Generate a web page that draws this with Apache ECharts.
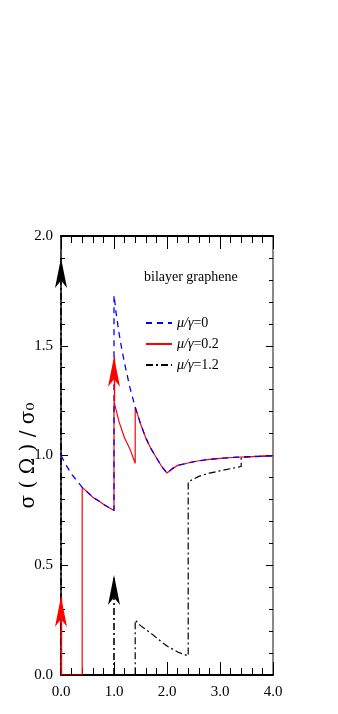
<!DOCTYPE html>
<html>
<head>
<meta charset="utf-8">
<script src="https://cdn.jsdelivr.net/npm/echarts@6/dist/echarts.min.js"></script>
<style>
  html, body { margin: 0; padding: 0; background: #fff; }
  #chart { width: 338px; height: 714px; }
</style>
</head>
<body>
<div id="chart"></div>
<script>
// mu/gamma = 0 (blue dashed)
const blueX = [0, 0.1, 0.2, 0.3, 0.4, 0.5, 0.6, 0.7, 0.8, 0.9, 1.0,
  1.0, 1.05, 1.1, 1.15, 1.2, 1.3, 1.4, 1.5, 1.6, 1.7, 1.8, 1.9, 2.0,
  2.1, 2.2, 2.4, 2.6, 2.8, 3.0, 3.3, 3.6, 4.0];
const blueY = [1.0, 0.955, 0.915, 0.885, 0.855, 0.833, 0.81, 0.795, 0.778, 0.763, 0.75,
  1.73, 1.63, 1.55, 1.48, 1.42, 1.31, 1.22, 1.145, 1.08, 1.03, 0.99, 0.95, 0.92,
  0.94, 0.955, 0.966, 0.976, 0.982, 0.987, 0.992, 0.995, 0.998];

// mu/gamma = 0.2 (red solid)
const redX = [0, 0.4, 0.4, 0.5, 0.6, 0.7, 0.8, 0.9, 1.0,
  1.0, 1.1, 1.2, 1.3, 1.4,
  1.4, 1.5, 1.6, 1.7, 1.8, 1.9, 2.0, 2.1, 2.2, 2.4, 2.6, 2.8, 3.0, 3.3, 3.6, 4.0];
const redY = [0, 0, 0.855, 0.833, 0.81, 0.795, 0.778, 0.763, 0.75,
  1.245, 1.15, 1.08, 1.03, 0.965,
  1.22, 1.145, 1.08, 1.03, 0.99, 0.95, 0.92, 0.94, 0.955, 0.966, 0.976, 0.982, 0.987, 0.992, 0.995, 0.998];

// mu/gamma = 1.2 (black dash-dot)
const blackX = [0, 1.4, 1.4, 1.5, 1.7, 1.9, 2.0, 2.2, 2.4, 2.4, 2.6, 2.8, 3.0, 3.2, 3.4, 3.4, 3.6, 4.0];
const blackY = [0, 0, 0.25, 0.225, 0.19, 0.15, 0.132, 0.105, 0.087, 0.88, 0.905, 0.92, 0.93, 0.94, 0.95, 0.99, 0.995, 0.998];

// Drude / delta peaks drawn as arrows: [x, from, tip]
const redArrows = [[0, 0, 0.357], [1.0, 1.245, 1.45]];
const blackArrows = [[0, 0, 1.9], [1.0, 0, 0.456]];

const xTicks = [0, 1, 2, 3, 4];
const yTicks = [0, 0.5, 1.0, 1.5, 2.0];

const names = ['μ/γ=0', 'μ/γ=0.2', 'μ/γ=1.2'];

function pairs(xs, ys) {
  return xs.map((x, i) => [x, ys[i]]);
}

function arrowData(list) {
  return list.map(a => [{ coord: [a[0], a[1]] }, { coord: [a[0], a[2]] }]);
}

const serif = 'Liberation Serif, DejaVu Serif, serif';

const chart = echarts.init(document.getElementById('chart'));

const xBase = {
  type: 'value', min: xTicks[0], max: xTicks[xTicks.length - 1], interval: 1,
  splitLine: { show: false },
  axisTick: { inside: true, length: 13, lineStyle: { color: '#000', width: 1 } },
  minorTick: { show: true, splitNumber: 5, length: 7, lineStyle: { color: '#000', width: 1 } },
  minorSplitLine: { show: false }
};
const yBase = {
  type: 'value', min: yTicks[0], max: yTicks[yTicks.length - 1], interval: 0.5,
  splitLine: { show: false },
  axisTick: { inside: true, length: 7, lineStyle: { color: '#000', width: 1 } },
  minorTick: { show: true, splitNumber: 5, length: 4, lineStyle: { color: '#000', width: 1 } },
  minorSplitLine: { show: false }
};

chart.setOption({
  animation: false,
  backgroundColor: '#fff',
  grid: { left: 61, right: 65, top: 236, bottom: 39 },
  title: {
    text: 'bilayer graphene',
    left: 139, top: 265,
    textStyle: { fontFamily: serif, fontSize: 14, fontWeight: 'normal', color: '#000' }
  },
  legend: {
    data: names,
    orient: 'vertical',
    left: 140, top: 311,
    itemWidth: 26, itemHeight: 12, itemGap: 7,
    itemStyle: { opacity: 0 },
    formatter: n => '{i|μ/γ}' + n.slice(3),
    textStyle: {
      fontFamily: serif, fontSize: 14, color: '#000',
      rich: { i: { fontFamily: serif, fontSize: 14, fontStyle: 'italic', color: '#000' } }
    },
    selectedMode: false
  },
  xAxis: [
    Object.assign({}, xBase, {
      position: 'bottom',
      axisLine: { onZero: false, lineStyle: { color: '#000', width: 2 } },
      axisLabel: { formatter: v => v.toFixed(1), fontFamily: serif, fontSize: 15, color: '#000', margin: 10 }
    }),
    Object.assign({}, xBase, {
      position: 'top',
      axisLine: { onZero: false, lineStyle: { color: '#000', width: 2 } },
      axisLabel: { show: false }
    })
  ],
  yAxis: [
    Object.assign({}, yBase, {
      position: 'left',
      name: 'σ ( Ω ) / σ₀',
      nameLocation: 'middle',
      nameRotate: 90,
      nameGap: 22,
      nameMoveOverlap: false,
      nameTextStyle: { fontFamily: 'DejaVu Serif, serif', fontSize: 20, color: '#000' },
      axisLine: { onZero: false, lineStyle: { color: '#000', width: 1.5 } },
      axisLabel: { formatter: v => v.toFixed(1), fontFamily: serif, fontSize: 15, color: '#000', margin: 8 }
    }),
    Object.assign({}, yBase, {
      position: 'right',
      axisLine: { onZero: false, lineStyle: { color: '#888', width: 2 } },
      axisLabel: { show: false }
    })
  ],
  series: [
    {
      name: names[2], type: 'line', xAxisIndex: 0, yAxisIndex: 0,
      data: pairs(blackX, blackY), showSymbol: false, symbol: 'none',
      lineStyle: { color: '#000', width: 1.2, type: [7, 3, 2, 3] },
      itemStyle: { color: '#000' },
      markLine: {
        silent: true, symbol: ['none', 'arrow'], symbolSize: [9, 30],
        label: { show: false },
        lineStyle: { color: '#000', width: 1.6, type: [7, 3, 2, 3] },
        itemStyle: { color: '#000' },
        data: arrowData(blackArrows)
      }
    },
    {
      name: names[1], type: 'line', xAxisIndex: 0, yAxisIndex: 0,
      data: pairs(redX, redY), showSymbol: false, symbol: 'none',
      lineStyle: { color: '#ff0000', width: 1.2 },
      itemStyle: { color: '#ff0000' },
      markLine: {
        silent: true, symbol: ['none', 'arrow'], symbolSize: [9, 30],
        label: { show: false },
        lineStyle: { color: '#ff0000', width: 1.4, type: 'solid' },
        itemStyle: { color: '#ff0000' },
        data: arrowData(redArrows)
      }
    },
    {
      name: names[0], type: 'line', xAxisIndex: 0, yAxisIndex: 0,
      data: pairs(blueX, blueY), showSymbol: false, symbol: 'none',
      lineStyle: { color: '#0000ff', width: 1.3, type: [6, 5] },
      itemStyle: { color: '#0000ff' }
    }
  ]
});
</script>
</body>
</html>
